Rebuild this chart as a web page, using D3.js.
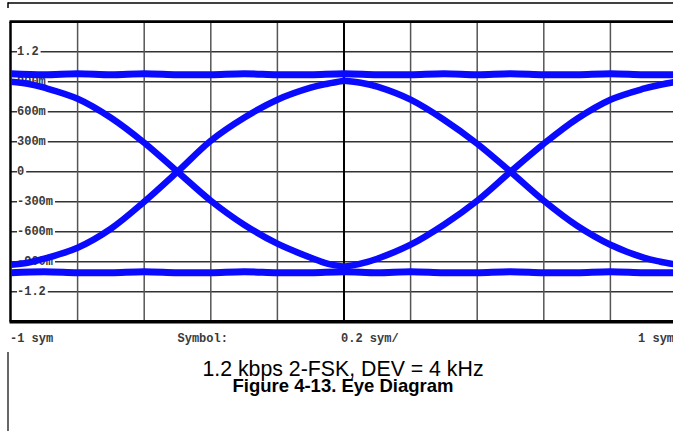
<!DOCTYPE html>
<html>
<head>
<meta charset="utf-8">
<script src="https://cdn.jsdelivr.net/npm/d3@7"></script>
<style>
  html, body { margin: 0; padding: 0; background: #fff; }
  svg { display: block; }
</style>
</head>
<body>
<svg id="chart" width="673" height="431"></svg>
<script>
// ---- data ----
const yTickValues = [1.2, 0.9, 0.6, 0.3, 0, -0.3, -0.6, -0.9, -1.2];
const yTickLabels = ["1.2", "900m", "600m", "300m", "0", "-300m", "-600m", "-900m", "-1.2"];
const xTickValues = [-0.8, -0.6, -0.4, -0.2, 0, 0.2, 0.4, 0.6, 0.8];
const xAxisLabels = ["-1 sym", "Symbol:", "0.2 sym/", "1 sym"];
const xAxisLabelPos = [-1, -0.5, 0, 0.88];

const tRail = [-1, -0.9, -0.8, -0.7, -0.6, -0.5, -0.4, -0.3, -0.2, -0.1, 0, 0.1, 0.2, 0.3, 0.4, 0.5, 0.6, 0.7, 0.8, 0.9, 1];
const railHigh = [0.98, 0.97, 0.98, 0.97, 0.98, 0.97, 0.97, 0.98, 0.97, 0.97, 0.98, 0.97, 0.97, 0.98, 0.97, 0.98, 0.97, 0.97, 0.98, 0.97, 0.97];
const railLow = [-1.01, -1.0, -1.01, -1.01, -1.0, -1.01, -1.01, -1.0, -1.01, -1.01, -1.0, -1.01, -1.0, -1.01, -1.01, -1.0, -1.01, -1.01, -1.0, -1.01, -1.01];

const tLeft = [-1, -0.95, -0.9, -0.8, -0.7, -0.6, -0.5, -0.4, -0.3, -0.2, -0.1, -0.05, 0];
const fallLeft = [0.90, 0.88, 0.84, 0.73, 0.54, 0.29, 0.0, -0.29, -0.53, -0.72, -0.86, -0.92, -0.95];
const riseLeft = [-0.93, -0.91, -0.87, -0.76, -0.57, -0.30, 0.0, 0.31, 0.54, 0.72, 0.84, 0.88, 0.91];

const tRight = [0, 0.05, 0.1, 0.2, 0.3, 0.4, 0.5, 0.6, 0.7, 0.8, 0.9, 0.95, 1];
const fallRight = [0.91, 0.89, 0.85, 0.72, 0.52, 0.28, 0.0, -0.29, -0.54, -0.73, -0.86, -0.90, -0.93];
const riseRight = [-0.95, -0.92, -0.87, -0.73, -0.53, -0.29, 0.0, 0.28, 0.53, 0.72, 0.83, 0.87, 0.90];

const captionLine1 = "1.2 kbps 2-FSK, DEV = 4 kHz";
const captionLine2 = "Figure 4-13. Eye Diagram";

// ---- layout ----
const svg = d3.select("#chart");
const plot = { left: 11, right: 677, top: 21.7, bottom: 321.7 };
const x = d3.scaleLinear().domain([-1, 1]).range([plot.left, plot.right]);
const y = d3.scaleLinear().domain([-1.5, 1.5]).range([plot.bottom, plot.top]);

// page decorations
svg.append("line").attr("x1", 8).attr("x2", 673).attr("y1", 3).attr("y2", 3)
  .attr("stroke", "#000").attr("stroke-width", 1.5);
svg.append("line").attr("x1", 8).attr("x2", 8).attr("y1", 2.3).attr("y2", 8)
  .attr("stroke", "#000").attr("stroke-width", 1.5);
svg.append("line").attr("x1", 8).attr("x2", 8).attr("y1", 352).attr("y2", 431)
  .attr("stroke", "#000").attr("stroke-width", 1.2);

// gridlines
const grid = svg.append("g");
grid.selectAll("line.h").data(yTickValues).join("line")
  .attr("class", "h")
  .attr("x1", plot.left).attr("x2", 673)
  .attr("y1", d => y(d)).attr("y2", d => y(d))
  .attr("stroke", "#333").attr("stroke-width", 1.5);
grid.selectAll("line.v").data(xTickValues).join("line")
  .attr("class", "v")
  .attr("x1", d => x(d)).attr("x2", d => x(d))
  .attr("y1", plot.top).attr("y2", plot.bottom)
  .attr("stroke", d => d === 0 ? "#000" : "#555")
  .attr("stroke-width", d => d === 0 ? 2 : 1.5);

// frame
svg.append("line").attr("x1", plot.left - 1.5).attr("x2", 673)
  .attr("y1", plot.top).attr("y2", plot.top).attr("stroke", "#000").attr("stroke-width", 2.8);
svg.append("line").attr("x1", plot.left - 1.5).attr("x2", 673)
  .attr("y1", plot.bottom).attr("y2", plot.bottom).attr("stroke", "#000").attr("stroke-width", 3.5);
svg.append("line").attr("x1", plot.left - 0.5).attr("x2", plot.left - 0.5)
  .attr("y1", plot.top).attr("y2", plot.bottom).attr("stroke", "#000").attr("stroke-width", 2.5);

// y labels (white-backed, under the traces)
const monoFont = "'Liberation Mono', 'DejaVu Sans Mono', monospace";
const ylab = svg.append("g");
yTickValues.forEach((v, i) => {
  const g = ylab.append("g");
  const t = g.append("text")
    .attr("x", 17).attr("y", y(v))
    .attr("dominant-baseline", "central")
    .attr("font-family", monoFont).attr("font-size", 12)
    .attr("font-weight", "bold")
    .attr("fill", "#3a3a3a")
    .text(yTickLabels[i]);
  const bb = t.node().getBBox();
  g.insert("rect", "text")
    .attr("x", bb.x).attr("y", y(v) - 4)
    .attr("width", bb.width + 2).attr("height", 8)
    .attr("fill", "#fff");
});

// traces
const clip = svg.append("defs").append("clipPath").attr("id", "pc");
clip.append("rect").attr("x", plot.left).attr("y", plot.top)
  .attr("width", plot.right - plot.left).attr("height", plot.bottom - plot.top);

const line = d3.line().x(d => x(d[0])).y(d => y(d[1])).curve(d3.curveCatmullRom.alpha(0.5));
const traces = svg.append("g").attr("clip-path", "url(#pc)");
const series = [
  { t: tRail, v: railHigh, w: 7 },
  { t: tRail, v: railLow, w: 7 },
  { t: tLeft, v: fallLeft, w: 6.5 },
  { t: tLeft, v: riseLeft, w: 6.5 },
  { t: tRight, v: fallRight, w: 6.5 },
  { t: tRight, v: riseRight, w: 6.5 }
];
traces.selectAll("path").data(series).join("path")
  .attr("d", s => line(s.t.map((t, i) => [t, s.v[i]])))
  .attr("fill", "none")
  .attr("stroke", "#0a0aff")
  .attr("stroke-width", s => s.w)
  .attr("stroke-linejoin", "round")
  .attr("stroke-linecap", "round");

// x axis labels
const xLabelOffset = [-1, 0, -3, 1];
svg.append("g").selectAll("text").data(xAxisLabels).join("text")
  .attr("x", (d, i) => x(xAxisLabelPos[i]) + xLabelOffset[i])
  .attr("y", 342)
  .attr("font-family", monoFont).attr("font-size", 12)
  .attr("font-weight", "bold")
  .attr("fill", "#3a3a3a")
  .text(d => d);

// caption
svg.append("text").attr("x", 343).attr("y", 376)
  .attr("text-anchor", "middle")
  .attr("font-family", "'Liberation Sans', Arial, sans-serif")
  .attr("font-size", 21.3).attr("fill", "#000")
  .text(captionLine1);
svg.append("text").attr("x", 343).attr("y", 391.5)
  .attr("text-anchor", "middle")
  .attr("font-family", "'Liberation Sans', Arial, sans-serif")
  .attr("font-size", 18.5).attr("font-weight", "bold").attr("fill", "#000")
  .text(captionLine2);
</script>
</body>
</html>
